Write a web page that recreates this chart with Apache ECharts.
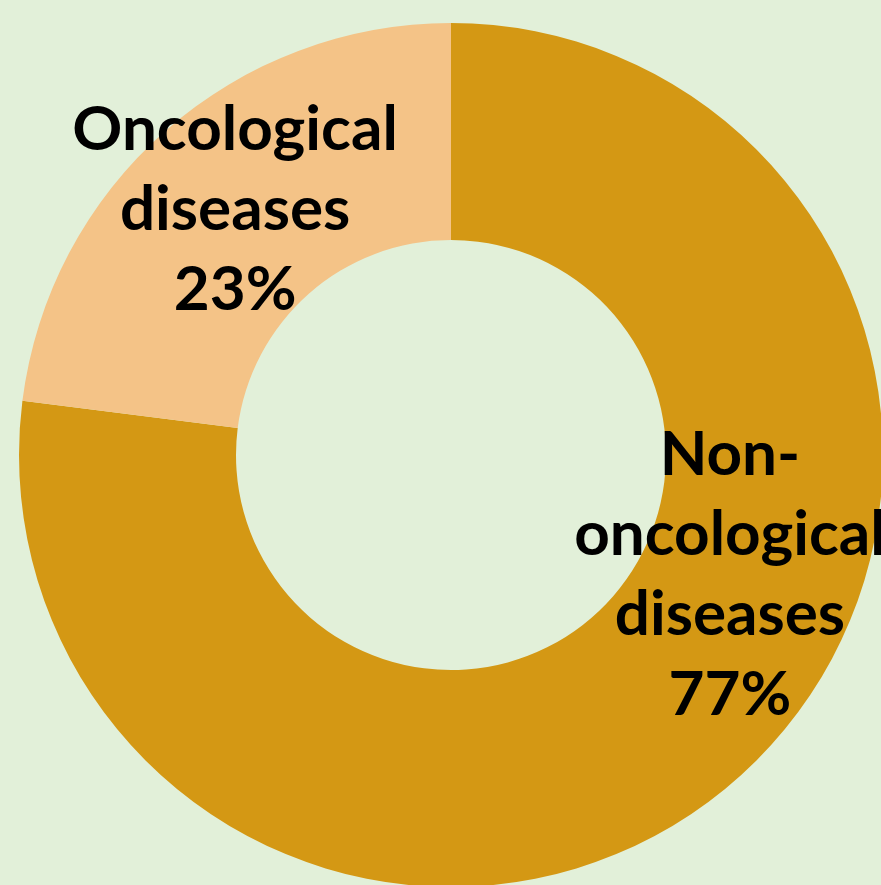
<!DOCTYPE html>
<html>
<head>
<meta charset="utf-8">
<script src="https://cdn.jsdelivr.net/npm/echarts@6/dist/echarts.min.js"></script>
<style>
  html, body { margin: 0; padding: 0; background: #e2f0d9; }
  #chart { width: 881px; height: 885px; }
</style>
</head>
<body>
<div id="chart"></div>
<script>
const categories = ["Non-\noncological\ndiseases", "Oncological\ndiseases"];
const shares = [77, 23];
const colors = ["#d49814", "#f4c387"];

const chart = echarts.init(document.getElementById("chart"));
chart.setOption({
  backgroundColor: "#e2f0d9",
  animation: false,
  series: [
    {
      type: "pie",
      center: [451, 455],
      radius: [215, 432],
      startAngle: 90,
      clockwise: true,
      avoidLabelOverlap: false,
      label: {
        show: true,
        position: "inside",
        formatter: "{b}\n{c}%",
        color: "#000",
        fontFamily: "Lato",
        fontWeight: "bold",
        fontSize: 62,
        lineHeight: 80,
        align: "center",
      },
      labelLine: { show: false },
      data: categories.map((name, i) => {
        const item = {
          name,
          value: shares[i],
          itemStyle: { color: colors[i] },
        };
        if (i === 0) {
          item.label = { offset: [63, -125] };
        }
        return item;
      }),
    },
  ],
});
</script>
</body>
</html>
